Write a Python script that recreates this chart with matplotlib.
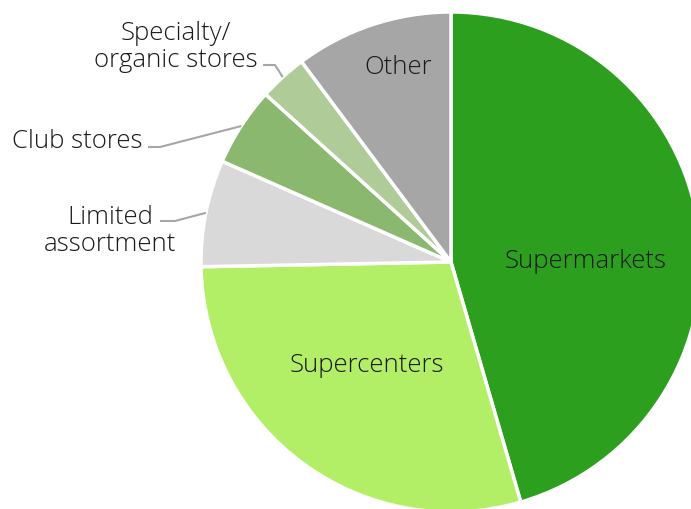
import numpy as np
import matplotlib.pyplot as plt

# share of food-at-home sales by store type (%)
stores = ['Supermarkets', 'Supercenters', 'Limited\nassortment', 'Club stores',
          'Specialty/\norganic stores', 'Other']
shares = [45.5, 29.2, 6.9, 5.1, 3.1, 10.2]
colors = ['#2ca01e', '#b2ef66', '#d9d9d9', '#8ab86e', '#aecb98', '#a6a6a6']

plt.rcParams['font.family'] = ['Open Sans', 'DejaVu Sans']

W, H = 691, 510
fig = plt.figure(figsize=(W / 100, H / 100), dpi=100)
ax = fig.add_axes([0, 0, 1, 1])

cx, cy, R = 451, 510 - 263, 250
wedges, _ = ax.pie(shares, colors=colors, startangle=90, counterclock=False,
                   center=(cx, cy), radius=R,
                   wedgeprops=dict(edgecolor='white', linewidth=2.5))
ax.set_xlim(0, W)
ax.set_ylim(0, H)
ax.set_aspect('equal')
ax.axis('off')

fs = 18.5
txt = dict(fontsize=fs, color='#1a1a1a', fontweight='light')
# labels inside the pie
inside = {0: (586, 261), 1: (367, 366), 5: (398, 68)}
for i, (x, y) in inside.items():
    ax.text(x, H - y, stores[i], ha='center', va='center', **txt)

# outside labels with leader lines: (text x, text y, elbow start, elbow end)
outside = {
    2: ((110, 231), (160, 222), (175, 222)),
    3: ((143, 142), (148, 148), (160, 148)),
    4: ((176, 47), (263, 66), (275, 66)),
}
for i, (tpos, p0, p1) in outside.items():
    w = wedges[i]
    mid = np.deg2rad((w.theta1 + w.theta2) / 2)
    tip = (cx + R * np.cos(mid), cy + R * np.sin(mid))
    ha = 'right' if i == 3 else 'center'
    ax.text(tpos[0], H - tpos[1], stores[i], ha=ha, va='center',
            linespacing=1.1, **txt)
    ax.plot([p0[0], p1[0], tip[0]], [H - p0[1], H - p1[1], tip[1]],
            color='#a6a6a6', lw=1.5, solid_capstyle='butt')

fig.savefig('out.png', dpi=100)
